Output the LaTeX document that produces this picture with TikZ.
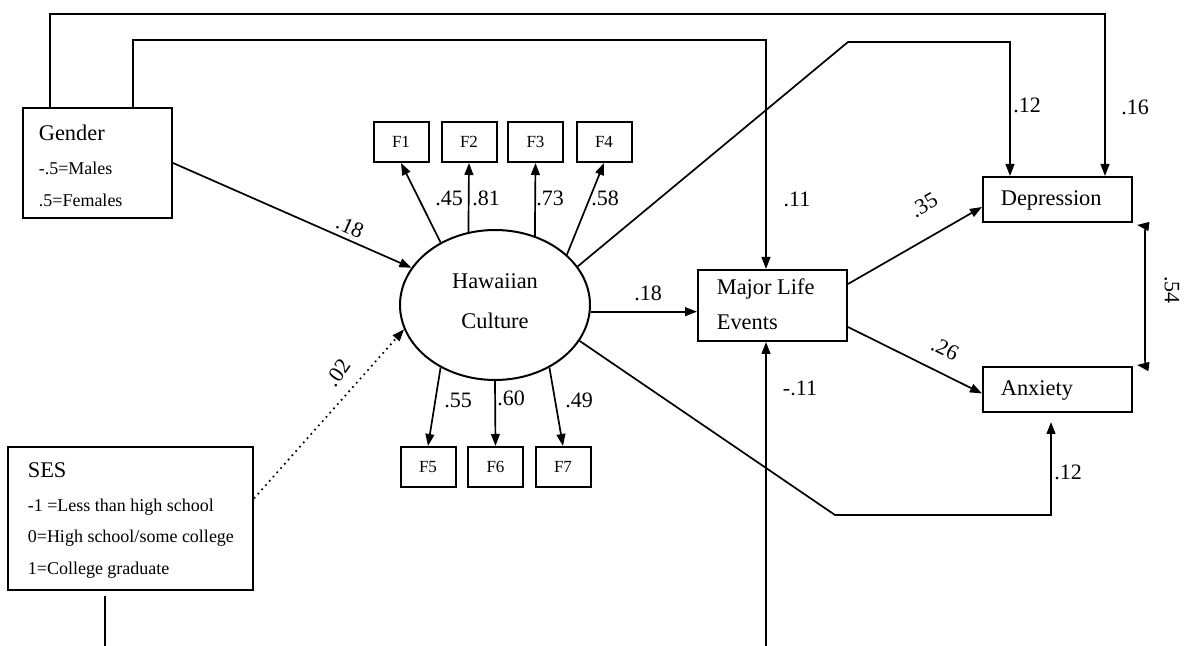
\documentclass[tikz,border=0pt]{standalone}
\usepackage{fontspec}
\setmainfont{Liberation Serif}
\usetikzlibrary{arrows.meta,calc,shapes.geometric}
\begin{document}
\begin{tikzpicture}[x=0.5pt,y=-0.5pt,
  line width=0.85pt,
  arr/.style={-{Triangle[length=6pt,width=4.4pt]}},
  box/.style={draw,rectangle,line width=1pt,inner sep=0pt},
  fbox/.style={box,minimum width=27.5pt,minimum height=20pt,font=\fontsize{8.5}{10}\selectfont},
  coef/.style={font=\fontsize{11}{13}\selectfont,inner sep=0pt},
  lbl/.style={font=\fontsize{11.2}{13}\selectfont,inner sep=0pt,anchor=west},
  small/.style={font=\fontsize{9}{11}\selectfont,inner sep=0pt,anchor=west}]
\useasboundingbox (0,0) rectangle (1191,646);

% boxes
\node[box,minimum width=74.5pt,minimum height=55pt] (gender) at (97.5,163) {};
\node[lbl] (gt) at (38,133) {Gender};
\node[small] (gt1) at (38,168) {-.5=Males};
\node[small] (gt2) at (38,200) {.5=Females};

\node[box,minimum width=122.5pt,minimum height=71.5pt] (ses) at (130.5,518.5) {};
\node[lbl] (st) at (27,470) {SES};
\node[small] (st1) at (27,507) {-1 =Less than high school};
\node[small] (st2) at (27,538) {0=High school/some college};
\node[small] (st3) at (27,570) {1=College graduate};

\node[draw,ellipse,line width=1pt,minimum width=95pt,minimum height=75pt,inner sep=0pt] (cult) at (495,305) {};
\node[coef] (ct1) at (495,281) {\fontsize{11.2}{13}\selectfont Hawaiian};
\node[coef] (ct2) at (495,321) {\fontsize{11.2}{13}\selectfont Culture};

\node[fbox] (f1) at (401,142) {F1};
\node[fbox] (f2) at (469,142) {F2};
\node[fbox] (f3) at (535.5,142) {F3};
\node[fbox] (f4) at (604,142) {F4};
\node[fbox] (f5) at (428,467) {F5};
\node[fbox] (f6) at (495.5,467) {F6};
\node[fbox] (f7) at (563,467) {F7};

\node[box,minimum width=74.5pt,minimum height=35.5pt] (mle) at (772.5,305.5) {};
\node[lbl] (mt1) at (716,289) {Major Life};
\node[lbl] (mt2) at (716,322) {Events};

\node[box,minimum width=74.5pt,minimum height=22.5pt] (dep) at (1057.5,199.5) {};
\node[lbl] (dt) at (1000,200) {Depression};
\node[box,minimum width=74.5pt,minimum height=22.5pt] (anx) at (1057.5,389.5) {};
\node[lbl] (at) at (1000,391) {Anxiety};

\coordinate (mlebot) at (766,646);
\coordinate (sesbot) at (105,646);

% connectors
\draw[arr] (50,0 |- gender.north) -- (50,14) -- (1105,14) -- (1105,0 |- dep.north);
\draw[arr] (133,0 |- gender.north) -- (133,40) -- (766,40) -- (766,0 |- mle.north);
\draw[arr] (cult.25) -- (848,42) -- (1010,42) -- (1010,0 |- dep.north);
\draw[arr] (cult.-23) -- (835,515) -- (1051,515) -- ($(1051,0 |- anx.south)+(0,9)$);
\draw[arr] (gender.east) -- (cult.156);
\draw[arr,dotted] ($(ses.east)+(0,-20)$) -- (cult.195);
\draw[arr] (cult.131) -- (f1.south);
\draw[arr] (cult.110) -- (f2.south);
\draw[arr] (cult.60) -- (f3.south);
\draw[arr] (cult.35) -- (f4.south);
\draw[arr] (cult.-131) -- (f5.north);
\draw[arr] (cult.south) -- (f6.north);
\draw[arr] (cult.-49) -- (f7.north);
\draw[arr] (cult.-4) -- (cult.-4 -| mle.west);
\draw[arr] (mlebot) -- (mle.south -| mlebot);
\draw[arr] ($(mle.north east)+(0,15)$) -- ($(dep.west)+(0,7.5)$);
\draw[arr] ($(mle.south east)+(0,-15)$) -- ($(anx.west)+(0,4)$);
\draw[{Triangle[length=6pt,width=4.4pt]}-{Triangle[length=6pt,width=4.4pt]}]
  ($(dep.south east)+(4,2)$) .. controls (1145,226) .. (1145,238) -- (1145,352)
  .. controls (1145,366) .. ($(anx.north east)+(4,-1)$);
\draw (sesbot) -- ($(ses.south -| sesbot)+(0,5)$);

% coefficients
\node[coef,rotate=-24] (c1) at (350,227) {.18};
\node[coef,rotate=55] (c2) at (338,373) {.02};
\node[coef] (c3) at (449,198) {.45};
\node[coef] (c4) at (486,198) {.81};
\node[coef] (c5) at (550,198) {.73};
\node[coef] (c6) at (605,198) {.58};
\node[coef] (c7) at (458,400) {.55};
\node[coef] (c8) at (511,398) {.60};
\node[coef] (c9) at (579,400) {.49};
\node[coef] (c10) at (648,293) {.18};
\node[coef] (c11) at (797,199) {.11};
\node[coef] (c12) at (800,388) {-.11};
\node[coef] (c13) at (1027,105) {.12};
\node[coef] (c14) at (1135,107) {.16};
\node[coef,rotate=30] (c15) at (924,205) {.35};
\node[coef,rotate=-26] (c16) at (945,349) {.26};
\node[coef,rotate=-90] (c17) at (1172,290) {.54};
\node[coef] (c18) at (1068,472) {.12};
\end{tikzpicture}
\end{document}
